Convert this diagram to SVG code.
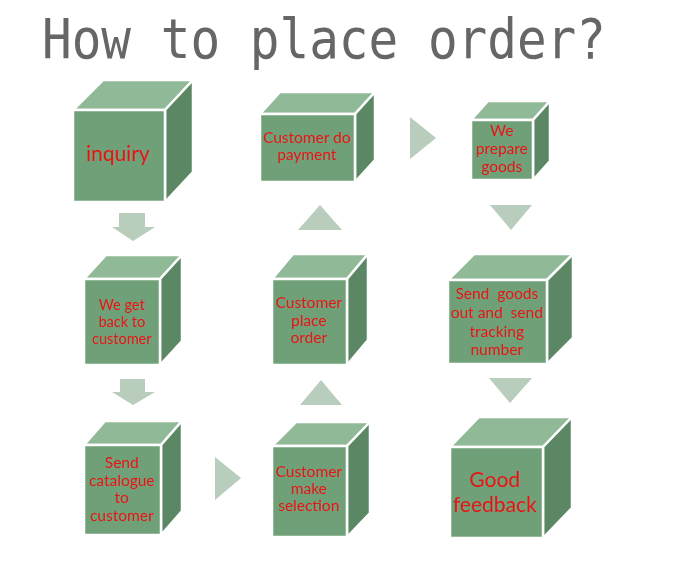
<svg xmlns="http://www.w3.org/2000/svg" width="680" height="581" viewBox="0 0 680 581">
<style>
.front{fill:#70a078;stroke:#fff;stroke-width:2.5;stroke-linejoin:round}
.top{fill:#90b997;stroke:#fff;stroke-width:2.5;stroke-linejoin:round}
.side{fill:#5b8764;stroke:#fff;stroke-width:2.5;stroke-linejoin:round}
.lbl{font-family:Lato,"Open Sans",sans-serif;fill:#e01818;text-anchor:middle;font-size:15.5px}
.sm{font-size:14.5px}
.big{font-size:21px}
.arr{fill:#b8cdbb}
.title{font-family:"DejaVu Sans Mono","Liberation Mono",monospace;fill:#666;font-size:55px}
</style>
<rect width="680" height="581" fill="#fff"/>
<text class="title" x="42" y="58" textLength="564" lengthAdjust="spacingAndGlyphs">How to place order?</text>

<g id="connectors">
<polygon class="arr" points="119,213 145,213 145,227 155,227 133,241 112,227 119,227"/>
<polygon class="arr" points="120,379 145,379 145,392 155,392 133,405 112,392 120,392"/>
<polygon class="arr" points="215,457 241,478 215,500"/>
<polygon class="arr" points="300,405 342,405 321,380"/>
<polygon class="arr" points="298,230 342,230 320,205"/>
<polygon class="arr" points="410,117 436,138 410,159"/>
<polygon class="arr" points="490,205 532,205 511,230"/>
<polygon class="arr" points="489,378 532,378 510,403"/>
</g>

<g id="n-inquiry">
<polygon class="top" points="73,110 103,80 193,80 165,110"/>
<polygon class="side" points="165,110 193,80 193,172 165,202"/>
<rect class="front" x="73" y="110" width="92" height="92"/>
<text class="lbl big" x="118" y="161">inquiry</text>
</g>

<g id="n-payment">
<polygon class="top" points="260,114 280,92 375,92 355,114"/>
<polygon class="side" points="355,114 375,92 375,160 355,182"/>
<rect class="front" x="260" y="114" width="95" height="68"/>
<text class="lbl" x="307" y="143">Customer do</text>
<text class="lbl" x="307" y="160">payment</text>
</g>

<g id="n-prepare">
<polygon class="top" points="471,120 488,101 550,101 533,120"/>
<polygon class="side" points="533,120 550,101 550,161 533,180"/>
<rect class="front" x="471" y="120" width="62" height="60"/>
<text class="lbl" x="502" y="136">We</text>
<text class="lbl" x="502" y="154">prepare</text>
<text class="lbl" x="502" y="172">goods</text>
</g>

<g id="n-getback">
<polygon class="top" points="84,279 106,255 182,255 160,279"/>
<polygon class="side" points="160,279 182,255 182,341 160,365"/>
<rect class="front" x="84" y="279" width="76" height="86"/>
<text class="lbl sm" x="122" y="310">We get</text>
<text class="lbl sm" x="122" y="327">back to</text>
<text class="lbl sm" x="122" y="344">customer</text>
</g>

<g id="n-placeorder">
<polygon class="top" points="272,279 293,254 368,254 347,279"/>
<polygon class="side" points="347,279 368,254 368,340 347,365"/>
<rect class="front" x="272" y="279" width="75" height="86"/>
<text class="lbl" x="309" y="308">Customer</text>
<text class="lbl" x="309" y="326">place</text>
<text class="lbl" x="309" y="343">order</text>
</g>

<g id="n-sendgoods">
<polygon class="top" points="448,280 474,254 573,254 547,280"/>
<polygon class="side" points="547,280 573,254 573,338 547,364"/>
<rect class="front" x="448" y="280" width="99" height="84"/>
<text class="lbl" x="497" y="299" xml:space="preserve">Send  goods</text>
<text class="lbl" x="497" y="318" xml:space="preserve">out and  send</text>
<text class="lbl" x="497" y="337">tracking</text>
<text class="lbl" x="497" y="355">number</text>
</g>

<g id="n-catalogue">
<polygon class="top" points="84,445 105,421 182,421 161,445"/>
<polygon class="side" points="161,445 182,421 182,511 161,535"/>
<rect class="front" x="84" y="445" width="77" height="90"/>
<text class="lbl" x="122" y="468">Send</text>
<text class="lbl" x="122" y="486">catalogue</text>
<text class="lbl" x="122" y="503">to</text>
<text class="lbl" x="122" y="521">customer</text>
</g>

<g id="n-selection">
<polygon class="top" points="272,446 296,422 370,422 347,446"/>
<polygon class="side" points="347,446 370,422 370,513 347,537"/>
<rect class="front" x="272" y="446" width="75" height="91"/>
<text class="lbl" x="309" y="477">Customer</text>
<text class="lbl" x="309" y="494">make</text>
<text class="lbl" x="309" y="511">selection</text>
</g>

<g id="n-feedback">
<polygon class="top" points="450,447 479,417 572,417 543,447"/>
<polygon class="side" points="543,447 572,417 572,508 543,538"/>
<rect class="front" x="450" y="447" width="93" height="91"/>
<text class="lbl big" x="495" y="487">Good</text>
<text class="lbl big" x="495" y="512">feedback</text>
</g>
</svg>
